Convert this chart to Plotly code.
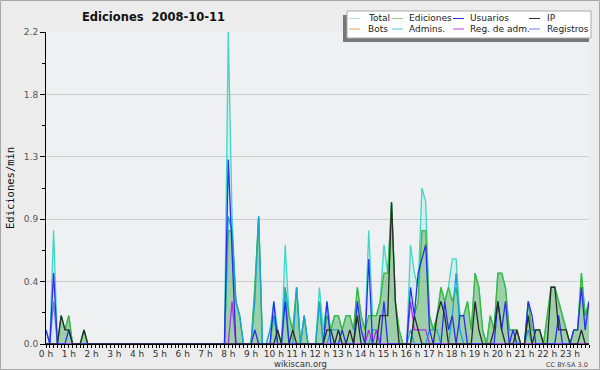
import plotly.graph_objects as go

# Edits per 10-minute bucket (144 buckets, 00:00 .. 23:50)
total = [1,0,8,0,2,1,2,0,0,0,1,0,
         0,0,0,0,0,0,0,0,0,0,0,0,
         0,0,0,0,0,0,0,0,0,0,0,0,
         0,0,0,0,0,0,0,0,0,0,0,0,
         22,9,3,2,0,0,0,4,9,0,0,1,
         3,1,0,7,2,1,4,0,2,0,0,0,
         4,1,3,1,2,2,1,2,2,1,4,2,
         1,8,2,2,3,7,5,10,3,1,0,0,
         7,5,4,11,10,2,1,2,4,3,4,6,
         6,2,2,3,1,5,4,1,0,2,1,5,
         5,4,1,1,1,0,0,3,1,1,1,0,
         2,4,4,3,2,1,0,1,1,5,2,3]
ediciones = [0,0,0,0,2,1,2,0,0,0,1,0,
             0,0,0,0,0,0,0,0,0,0,0,0,
             0,0,0,0,0,0,0,0,0,0,0,0,
             0,0,0,0,0,0,0,0,0,0,0,0,
             8,8,3,2,0,0,0,4,9,0,0,0,
             2,1,0,4,2,1,4,0,2,0,0,0,
             3,0,2,1,2,2,1,2,2,1,4,2,
             1,2,2,2,3,5,5,10,3,1,0,0,
             0,2,3,8,8,2,1,2,4,3,4,3,
             4,2,2,3,1,5,4,1,0,2,1,5,
             5,4,1,1,1,0,0,3,1,1,1,0,
             2,4,4,3,2,1,0,1,1,5,2,3]
usuarios = [1,0,5,0,0,0,1,0,0,0,0,0,
            0,0,0,0,0,0,0,0,0,0,0,0,
            0,0,0,0,0,0,0,0,0,0,0,0,
            0,0,0,0,0,0,0,0,0,0,0,0,
            13,6,0,0,0,0,0,1,0,0,0,0,
            3,0,0,3,0,0,0,0,0,0,0,0,
            0,0,3,0,0,0,1,0,0,0,3,1,
            0,6,0,0,0,3,0,0,0,0,0,0,
            4,2,5,6,7,1,0,0,0,3,1,2,
            0,2,2,0,0,0,0,0,0,0,0,3,
            1,3,0,1,0,0,0,3,2,0,0,0,
            0,0,0,2,0,0,0,1,1,4,1,3]
ip = [0,0,0,0,2,1,1,0,0,0,1,0,
      0,0,0,0,0,0,0,0,0,0,0,0,
      0,0,0,0,0,0,0,0,0,0,0,0,
      0,0,0,0,0,0,0,0,0,0,0,0,
      0,0,0,0,0,0,0,0,0,0,0,0,
      0,1,0,0,0,1,0,0,0,0,0,0,
      0,0,1,1,0,1,0,0,1,0,2,0,
      0,0,0,0,2,2,2,10,3,0,0,0,
      0,2,1,0,0,0,0,2,3,2,0,0,
      0,0,0,0,0,3,1,0,0,0,1,3,
      1,0,0,0,1,0,0,2,0,1,1,0,
      0,4,4,1,1,1,0,0,0,1,0,0]
bots = [0,0,0,0,0,0,0,0,0,0,0,0,
        0,0,0,0,0,0,0,0,0,0,0,0,
        0,0,0,0,0,0,0,0,0,0,0,0,
        0,0,0,0,0,0,0,0,0,0,0,0,
        0,0,0,0,0,0,0,0,0,0,0,0,
        0,0,0,0,0,0,0,0,0,0,0,0,
        0,0,0,0,0,0,0,0,0,0,0,0,
        0,0,0,0,0,0,0,0,0,0,0,0,
        0,0,0,0,0,0,0,0,0,0,0,0,
        0,0,0,0,0,0,0,0,0,0,0,0,
        0,0,0,0,0,0,0,0,0,0,0,0,
        0,0,0,0,0,0,0,0,0,0,0,0]
admins = [0,0,0,0,0,0,0,0,0,0,0,0,
          0,0,0,0,0,0,0,0,0,0,0,0,
          0,0,0,0,0,0,0,0,0,0,0,0,
          0,0,0,0,0,0,0,0,0,0,0,0,
          9,8,3,2,0,0,0,3,9,0,0,1,
          2,0,0,4,0,0,4,0,2,0,0,0,
          3,0,0,1,1,1,0,0,0,0,0,0,
          0,0,1,1,0,0,0,0,0,0,0,0,
          1,0,0,0,0,1,1,1,0,0,0,2,
          5,1,0,0,0,0,0,0,0,0,0,0,
          0,0,0,0,0,0,0,1,0,0,0,0,
          0,0,0,0,0,0,0,0,0,0,0,0]
reg_adm = [0,0,0,0,0,0,0,0,0,0,0,0,
           0,0,0,0,0,0,0,0,0,0,0,0,
           0,0,0,0,0,0,0,0,0,0,0,0,
           0,0,0,0,0,0,0,0,0,0,0,0,
           0,3,0,0,0,0,0,0,0,0,0,0,
           0,0,0,0,0,0,0,0,0,0,0,0,
           0,0,0,0,0,0,0,0,0,0,0,0,
           0,1,0,1,0,0,0,0,0,0,0,0,
           3,1,1,1,1,0,0,0,0,0,0,0,
           0,0,0,0,0,0,0,0,0,0,0,0,
           0,0,0,0,0,0,0,0,0,0,0,0,
           0,0,0,0,0,0,0,0,0,0,0,0]
registros = [0,0,3,0,0,0,0,0,0,0,0,0,
             0,0,0,0,0,0,0,0,0,0,0,0,
             0,0,0,0,0,0,0,0,0,0,0,0,
             0,0,0,0,0,0,0,0,0,0,0,0,
             0,0,0,0,0,0,0,0,0,0,0,0,
             0,0,0,0,0,0,0,0,0,0,0,0,
             0,0,0,0,0,0,0,0,0,0,0,0,
             0,0,0,0,0,0,0,0,0,0,0,0,
             0,0,0,0,0,0,0,0,0,0,0,0,
             0,0,0,0,0,0,0,0,0,0,0,0,
             0,0,0,0,0,0,0,0,0,0,0,0,
             0,0,0,0,0,0,0,0,0,0,0,0]

hour_labels = ["%d h" % h for h in range(24)]
y_tick_vals = [0, 0.44, 0.88, 1.32, 1.76, 2.2]
y_tick_text = ["0.0", "0.4", "0.9", "1.3", "1.8", "2.2"]

t_hours = [i / 6 for i in range(len(total))]
rate = lambda s: [v / 10 for v in s]

W, H = 600, 370
L, R, T, B = 46, 589, 32, 344
def px(x): return (x - L) / (R - L)
def py(y): return (B - y) / (B - T)

fig = go.Figure()
fig.add_trace(go.Scatter(x=t_hours, y=rate(total), mode="lines", name="Total",
                         line=dict(color="#3ed6c6", width=1.3),
                         fill="tozeroy", fillcolor="rgba(80,220,200,0.15)"))
fig.add_trace(go.Scatter(x=t_hours, y=rate(ediciones), mode="lines", name="Ediciones",
                         line=dict(color="#3cb83c", width=1.3),
                         fill="tozeroy", fillcolor="rgba(70,165,70,0.40)"))
series = [("Bots", bots, "#f0a040"), ("Admins.", admins, "#1aa4d8"),
          ("Registros", registros, "#7070f0"), ("Reg. de adm.", reg_adm, "#b030e0"),
          ("Usuarios", usuarios, "#2c2cf4"), ("IP", ip, "#2a2a2a")]
for name, s, c in series:
    fig.add_trace(go.Scatter(x=t_hours, y=rate(s), mode="lines", name=name,
                             line=dict(color=c, width=1.3)))

shapes = []
annotations = []
# outer border
shapes.append(dict(type="rect", xref="paper", yref="paper",
                   x0=px(0.5), x1=px(599.5), y0=py(369.5), y1=py(0.5),
                   line=dict(color="#a8a8a8", width=1), layer="below"))
# legend box with shadow
shapes.append(dict(type="rect", xref="paper", yref="paper",
                   x0=px(343), x1=px(589), y0=py(42), y1=py(15),
                   line=dict(width=0), fillcolor="#777777"))
shapes.append(dict(type="rect", xref="paper", yref="paper",
                   x0=px(347), x1=px(591), y0=py(38), y1=py(11),
                   line=dict(color="#aaaaaa", width=1), fillcolor="#ffffff"))
legend_items = [("Total", "#a8e4e0", 0, 0), ("Ediciones", "#88d088", 1, 0),
                ("Usuarios", "#3030d8", 2, 0), ("IP", "#303030", 3, 0),
                ("Bots", "#f0a040", 0, 1), ("Admins.", "#50c8e0", 1, 1),
                ("Reg. de adm.", "#c040e0", 2, 1), ("Registros", "#7878f0", 3, 1)]
col_line = [349, 392, 453, 529]
col_text = [366, 407, 468, 545]
row_y = [18.5, 29]
for name, c, col, row in legend_items:
    shapes.append(dict(type="line", xref="paper", yref="paper",
                       x0=px(col_line[col]), x1=px(col_line[col] + 11),
                       y0=py(row_y[row]), y1=py(row_y[row]),
                       line=dict(color=c, width=1)))
    annotations.append(dict(text=name, xref="paper", yref="paper",
                            x=px(col_text[col]), y=py(row_y[row]),
                            xanchor="left", yanchor="middle", showarrow=False,
                            font=dict(family="DejaVu Sans", size=9, color="#222")))

annotations.append(dict(text="<b>Ediciones\u00a0 2008-10-11</b>", xref="paper", yref="paper",
                        x=px(153), y=py(17), xanchor="center", yanchor="middle",
                        showarrow=False,
                        font=dict(family="DejaVu Sans", size=11.5, color="#111")))
annotations.append(dict(text="Ediciones/min", xref="paper", yref="paper",
                        x=px(10), y=py(188), textangle=-90, xanchor="center",
                        yanchor="middle", showarrow=False,
                        font=dict(family="DejaVu Sans Mono", size=10.5, color="#111")))
annotations.append(dict(text="wikiscan.org", xref="paper", yref="paper",
                        x=px(300), y=py(364), xanchor="center", yanchor="middle",
                        showarrow=False,
                        font=dict(family="DejaVu Sans", size=8.5, color="#333")))
annotations.append(dict(text="CC BY-SA 3.0", xref="paper", yref="paper",
                        x=px(590), y=py(364.5), xanchor="right", yanchor="middle",
                        showarrow=False,
                        font=dict(family="DejaVu Sans", size=6.5, color="#444")))

fig.update_layout(
    width=W, height=H,
    margin=dict(l=L, r=W - R, t=T, b=H - B, pad=0),
    paper_bgcolor="#ececec", plot_bgcolor="#eff0f2",
    showlegend=False,
    shapes=shapes, annotations=annotations,
    font=dict(family="DejaVu Sans", size=9, color="#333"),
)
fig.update_xaxes(range=[0, 143 / 6], tickmode="array",
                 tickvals=list(range(24)), ticktext=hour_labels,
                 showgrid=False, zeroline=False,
                 showline=True, linecolor="#000", linewidth=1,
                 ticks="outside", ticklen=3, tickcolor="#000", tickwidth=1,
                 ticklabelstandoff=-2,
                 minor=dict(dtick=1 / 6, tick0=0, ticks="outside", ticklen=3,
                            tickcolor="#000", showgrid=False),
                 tickfont=dict(family="DejaVu Sans", size=9, color="#333"))
fig.update_yaxes(range=[0, 2.2], tickmode="array",
                 tickvals=y_tick_vals, ticktext=y_tick_text,
                 showgrid=True, gridcolor="#cccccc", gridwidth=1, zeroline=False,
                 showline=True, linecolor="#000", linewidth=1,
                 ticks="outside", ticklen=5, tickcolor="#000", tickwidth=1,
                 minor=dict(dtick=0.22, tick0=0, ticks="outside", ticklen=3,
                            tickcolor="#000", showgrid=False),
                 tickfont=dict(family="DejaVu Sans", size=9, color="#555"))

fig.write_html("out.html")
